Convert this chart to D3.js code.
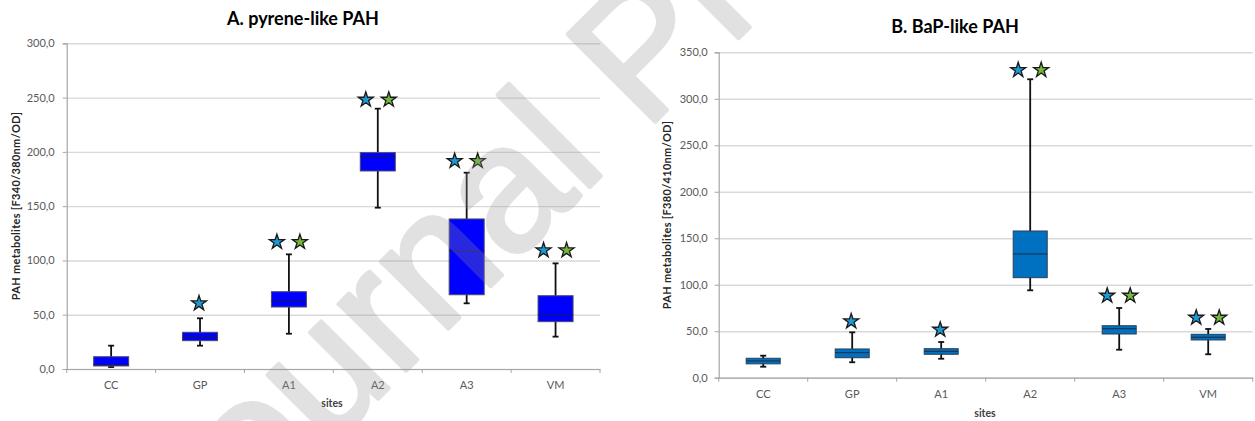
<!DOCTYPE html>
<html><head><meta charset="utf-8">
<script src="https://cdn.jsdelivr.net/npm/d3@7"></script>
<style>
html,body{margin:0;padding:0;background:#fff;}
svg{display:block;}
</style></head>
<body>
<svg id="chart" width="1255" height="421"></svg>
<script>
// ---------- data ----------
const sites = ["CC", "GP", "A1", "A2", "A3", "VM"];

// Panel A: pyrene-like PAH
const aMin = [1.8, 21.5, 32.5, 148.6, 60.5, 29.8];
const aQ1  = [2.8, 26.1, 57.1, 182.4, 68.4, 43.6];
const aMed = [4.0, 29.2, 62.6, 195.6, 109.0, 50.3];
const aQ3  = [11.3, 33.8, 71.2, 199.3, 138.2, 67.5];
const aMax = [21.5, 46.7, 105.6, 239.8, 180.8, 97.3];
const aStarY     = [null, 61.4, 117.9, 249.0, 192.5, 110.2];
const aStarBlue  = [false, true, true, true, true, true];
const aStarGreen = [false, false, true, true, true, true];
const aTicks = [0, 50, 100, 150, 200, 250, 300];

// Panel B: BaP-like PAH
const bMin = [11.8, 16.6, 20.4, 94.0, 30.1, 25.2];
const bQ1  = [14.9, 21.5, 25.2, 107.6, 47.0, 40.6];
const bMed = [18.0, 26.9, 28.4, 133.1, 52.7, 43.5];
const bQ3  = [20.9, 30.9, 31.2, 157.8, 55.9, 46.7];
const bMax = [23.7, 48.8, 38.4, 321.0, 75.0, 52.4];
const bStarY     = [null, 61.7, 52.7, 332.0, 89.3, 65.6];
const bStarBlue  = [false, true, true, true, true, true];
const bStarGreen = [false, false, false, true, true, true];
const bTicks = [0, 50, 100, 150, 200, 250, 300, 350];

const titles = ["A. pyrene-like PAH", "B. BaP-like PAH"];
const yTitles = ["PAH metabolites [F340/380nm/OD]", "PAH metabolites [F380/410nm/OD]"];
const xTitle = "sites";
const watermark = "Journal Pre-proof";

// ---------- drawing ----------
const svg = d3.select("#chart");
const FONT = "Lato, 'Open Sans', sans-serif";
const fmt = d => d.toFixed(1).replace(".", ",");

function panel(o) {
  const g = svg.append("g");
  const x = d3.scaleBand().domain(sites).range([o.x0, o.x1]).padding(0);
  const y = d3.scaleLinear().domain([0, o.ymax]).range([o.y0, o.y1]);
  const w = o.x1 - o.x0;

  // gridlines
  g.append("g").attr("transform", `translate(${o.x0},0)`)
    .call(d3.axisLeft(y).tickValues(o.ticks).tickSize(-w).tickFormat(""))
    .call(s => s.select(".domain").remove())
    .call(s => s.selectAll("line").attr("stroke", "#d9d9d9").attr("stroke-width", 1.4));

  // y axis with labels
  g.append("g").attr("transform", `translate(${o.x0},0)`)
    .call(d3.axisLeft(y).tickValues(o.ticks).tickSize(4).tickPadding(o.tickPad).tickFormat(fmt))
    .call(s => s.select(".domain").attr("stroke", "#a6a6a6").attr("stroke-width", 1.2))
    .call(s => s.selectAll("line").attr("stroke", "#a6a6a6"))
    .call(s => s.selectAll("text").attr("fill", "#595959").attr("font-size", 11).attr("font-family", FONT));

  // x axis
  g.append("g").attr("transform", `translate(0,${o.y0})`)
    .call(d3.axisBottom(x).tickSize(0).tickPadding(0))
    .call(s => s.select(".domain").attr("stroke", "#a6a6a6").attr("stroke-width", 1.2))
    .call(s => s.selectAll("text").attr("fill", "#595959").attr("font-size", 11)
      .attr("font-family", FONT).attr("dy", null).attr("y", o.xLabY));
  g.append("g").selectAll("line").data(sites.map(d => x(d)).concat([o.x1])).join("line")
    .attr("x1", d => d).attr("x2", d => d).attr("y1", o.y0).attr("y2", o.y0 + 4)
    .attr("stroke", "#a6a6a6").attr("stroke-width", 1);

  const bw = o.boxW, cw = 6;
  const cx = d => x(d) + x.bandwidth() / 2;
  const boxes = g.append("g").selectAll("g").data(sites.map((s, i) => ({s, i}))).join("g");
  // whisker
  boxes.append("line").attr("x1", d => cx(d.s)).attr("x2", d => cx(d.s))
    .attr("y1", d => y(o.min[d.i])).attr("y2", d => y(o.max[d.i]))
    .attr("stroke", "#111").attr("stroke-width", 1.8);
  boxes.append("line").attr("x1", d => cx(d.s) - cw / 2).attr("x2", d => cx(d.s) + cw / 2)
    .attr("y1", d => y(o.max[d.i])).attr("y2", d => y(o.max[d.i]))
    .attr("stroke", "#111").attr("stroke-width", 1.8);
  boxes.append("line").attr("x1", d => cx(d.s) - cw / 2).attr("x2", d => cx(d.s) + cw / 2)
    .attr("y1", d => y(o.min[d.i])).attr("y2", d => y(o.min[d.i]))
    .attr("stroke", "#111").attr("stroke-width", 1.8);
  // box
  boxes.append("rect").attr("x", d => cx(d.s) - bw / 2).attr("width", bw)
    .attr("y", d => y(o.q3[d.i])).attr("height", d => y(o.q1[d.i]) - y(o.q3[d.i]))
    .attr("fill", o.fill).attr("stroke", o.stroke).attr("stroke-width", 1);
  // median
  boxes.append("line").attr("x1", d => cx(d.s) - bw / 2).attr("x2", d => cx(d.s) + bw / 2)
    .attr("y1", d => y(o.med[d.i])).attr("y2", d => y(o.med[d.i]))
    .attr("stroke", o.medColor).attr("stroke-width", 1);

  // stars
  const star = d3.symbol(d3.symbolStar, 70);
  const stars = [];
  sites.forEach((s, i) => {
    if (o.starY[i] == null) return;
    const both = o.blue[i] && o.green[i];
    if (o.blue[i]) stars.push({x: cx(s) + (both ? -12 : -1), v: o.starY[i], c: "#1c9ad6"});
    if (o.green[i]) stars.push({x: cx(s) + (both ? 11 : 0), v: o.starY[i], c: "#74b83e"});
  });
  g.append("g").selectAll("path").data(stars).join("path")
    .attr("d", star).attr("transform", d => `translate(${d.x},${y(d.v) + 1})`)
    .attr("fill", d => d.c).attr("stroke", "#1a1a1a").attr("stroke-width", 1.3)
    .attr("stroke-linejoin", "miter");

  // titles
  g.append("text").attr("x", o.titleX).attr("y", o.titleY).attr("text-anchor", "middle")
    .attr("font-family", FONT).attr("font-weight", "bold").attr("font-size", 18)
    .attr("fill", "#000").text(o.title);
  g.append("text").attr("transform", `translate(${o.yTitleX},${o.yTitleY}) rotate(-90)`)
    .attr("text-anchor", "middle").attr("dominant-baseline", "central")
    .attr("font-family", FONT).attr("font-weight", "bold").attr("font-size", 11)
    .attr("letter-spacing", 0.3)
    .attr("fill", "#262626").text(o.yTitle);
  g.append("text").attr("x", o.xTitleX).attr("y", o.xTitleY).attr("text-anchor", "middle")
    .attr("font-family", FONT).attr("font-weight", "bold").attr("font-size", 10.5)
    .attr("fill", "#404040").text(xTitle);
}

panel({
  x0: 66.7, x1: 600, y0: 369, y1: 43.3, ymax: 300, ticks: aTicks, tickPad: 8,
  min: aMin, q1: aQ1, med: aMed, q3: aQ3, max: aMax,
  starY: aStarY, blue: aStarBlue, green: aStarGreen,
  fill: "#0000ff", stroke: "#4a4a6a", medColor: "#1a1a50", boxW: 35,
  xLabY: 20, title: titles[0], titleX: 303, titleY: 25,
  yTitle: yTitles[0], yTitleX: 15, yTitleY: 206, xTitleX: 332, xTitleY: 407
});
panel({
  x0: 718.7, x1: 1252.7, y0: 377.7, y1: 52.3, ymax: 350, ticks: bTicks, tickPad: 7,
  min: bMin, q1: bQ1, med: bMed, q3: bQ3, max: bMax,
  starY: bStarY, blue: bStarBlue, green: bStarGreen,
  fill: "#0070c0", stroke: "#2b3f55", medColor: "#1a2a40", boxW: 34,
  xLabY: 20, title: titles[1], titleX: 955, titleY: 33,
  yTitle: yTitles[1], yTitleX: 666.7, yTitleY: 215, xTitleX: 985, xTitleY: 417
});

// watermark
svg.append("text").attr("transform", "translate(192,585) rotate(-45)")
  .attr("font-family", "'Liberation Sans', Arial, sans-serif").attr("font-size", 180)
  .attr("fill", "#949494").attr("stroke", "#949494").attr("stroke-width", 4)
  .attr("stroke-linejoin", "round").attr("opacity", 0.27).text(watermark);
</script>
</body></html>
